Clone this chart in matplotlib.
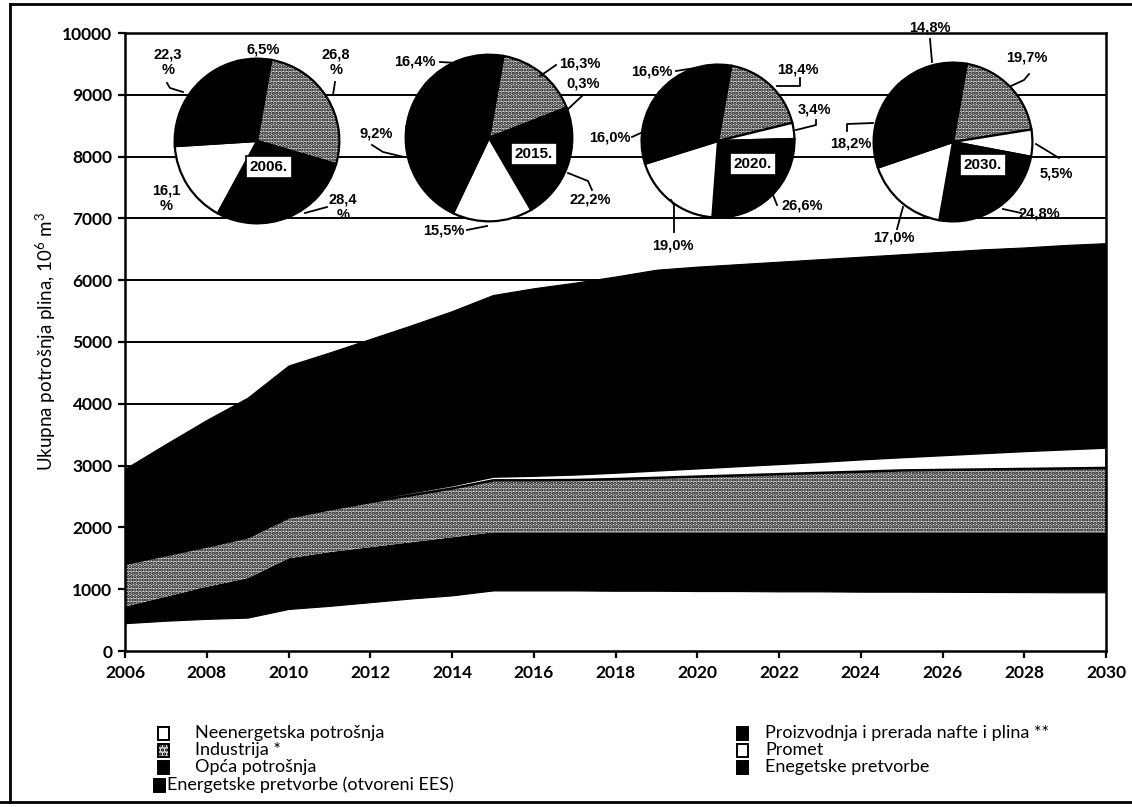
import matplotlib.pyplot as plt
from matplotlib.patches import Rectangle
from matplotlib.lines import Line2D

plt.rcParams['font.family'] = ['Lato', 'DejaVu Sans']
plt.rcParams['mathtext.default'] = 'regular'
plt.rcParams['hatch.linewidth'] = 1.6

# ---- data ----
years = list(range(2006, 2031))

series_names = ['Neenergetska potrošnja',
                'Proizvodnja i prerada nafte i plina **',
                'Industrija *',
                'Promet',
                'Opća potrošnja',
                'Enegetske pretvorbe',
                'Energetske pretvorbe (otvoreni EES)']

neenergetska = [450, 490, 520, 540, 680, 730, 790, 850, 900, 980, 980, 980, 975,
                975, 970, 970, 965, 965, 960, 960, 958, 955, 953, 950, 950]
proizvodnja = [270, 390, 520, 640, 820, 870, 890, 910, 940, 940, 940, 940, 945,
               945, 950, 950, 955, 955, 960, 960, 962, 965, 967, 970, 970]
industrija = [700, 680, 660, 670, 670, 700, 740, 770, 800, 850, 850, 855, 870,
              890, 910, 930, 950, 970, 990, 1010, 1018, 1026, 1034, 1042, 1050]
promet = [30, 30, 30, 30, 35, 35, 40, 45, 50, 60, 75, 90, 105,
          120, 135, 150, 165, 180, 200, 215, 240, 265, 290, 310, 330]
opca = [700, 760, 820, 870, 920, 950, 980, 1010, 1040, 1070, 1090, 1100, 1110,
        1120, 1125, 1130, 1135, 1140, 1140, 1145, 1150, 1155, 1155, 1160, 1160]
enegetske = [500, 650, 790, 900, 1015, 1045, 1090, 1145, 1210, 1280, 1335, 1375, 1415,
             1460, 1465, 1460, 1455, 1450, 1450, 1445, 1442, 1439, 1431, 1433, 1430]
ees = [300, 350, 400, 450, 480, 500, 520, 540, 560, 580, 600, 620, 640,
       660, 665, 670, 675, 680, 680, 685, 690, 695, 700, 705, 710]

# pie shares, slice order clockwise from top:
# industrija, promet, proizvodnja, neenergetska, then the black consumers
pie_titles = ['2006.', '2015.', '2020.', '2030.']
pie_2006 = [26.8, 0.0, 28.4, 16.1, 22.3, 6.5]
pie_2015 = [16.3, 0.3, 22.2, 15.5, 20.1, 9.2, 16.4]
pie_2020 = [18.4, 3.4, 26.6, 19.0, 16.0, 16.6]
pie_2030 = [19.7, 5.5, 24.8, 17.0, 18.2, 14.8]

# ---- layout helpers (pixel -> figure fraction) ----
W, H = 1132, 807
def fx(x):
    return x / W
def fy(y):
    return 1 - y / H

fig = plt.figure(figsize=(W / 100, H / 100), dpi=100)
fig.patch.set_facecolor('white')

ax = fig.add_axes([fx(125), fy(651), (1106 - 125) / W, (651 - 33) / H])

dots = '#dcdcdc'
fills = ['white', 'black', dots, 'white', 'black', 'black', 'black']
polys = ax.stackplot(years, neenergetska, proizvodnja, industrija, promet,
                     opca, enegetske, ees, colors=fills, labels=series_names)
for p, c in zip(polys, fills):
    p.set_edgecolor(c)
    p.set_linewidth(0.8)
polys[2].set_hatch('.....')
polys[2].set_edgecolor('black')
polys[2].set_linewidth(0)
polys[3].set_edgecolor('black')
polys[3].set_linewidth(1.8)

ax.set_xlim(2006, 2030)
ax.set_ylim(0, 10000)
ax.set_xticks(range(2006, 2031, 2))
ax.set_yticks(range(0, 10001, 1000))
ax.yaxis.grid(True, color='black', linewidth=1.4)
ax.set_axisbelow(True)
for s in ax.spines.values():
    s.set_linewidth(1.8)
ax.tick_params(direction='out', length=5, width=1.6, labelsize=12.5, pad=4)
ax.tick_params(axis='x', pad=5)
for lab in ax.get_xticklabels() + ax.get_yticklabels():
    lab.set_fontweight('bold')
ax.set_ylabel('Ukupna potrošnja plina, 10$^6$ m$^3$', fontsize=13.5)
ax.yaxis.set_label_coords(-0.068, 0.5)

# ---- pies ----
slice_fill = [dots, 'white', 'black', 'white']

pies = [
    # values, centre x, centre y, radius, box centre, label positions + leaders
    (pie_2006, 257, 141, 84, (269, 167),
     [((336, 62), True, [(335, 82), (333, 95)]),
      None,
      ((343, 207), True, [(327, 207), (305, 213)]),
      ((166, 198), True, []),
      ((168, 62), True, [(167, 83), (170, 88), (183, 92)]),
      ((263, 50), False, [])]),
    (pie_2015, 489, 138, 85, (534, 154),
     [((580, 63), False, [(556, 65), (546, 72), (540, 76)]),
      ((583, 83), False, [(582, 96), (567, 110)]),
      ((590, 200), False, [(592, 190), (588, 181), (568, 173)]),
      ((444, 231), False, [(467, 230), (487, 226)]),
      None,
      ((376, 133), False, [(372, 145), (383, 152), (404, 157)]),
      ((415, 62), False, [(440, 62), (458, 63)])]),
    (pie_2020, 718, 141, 78, (753, 164),
     [((798, 70), False, [(800, 78), (800, 86), (777, 86)]),
      ((814, 110), False, [(816, 120), (816, 125), (796, 130)]),
      ((802, 205), False, [(777, 205), (773, 195)]),
      ((673, 245), False, [(674, 232), (674, 205), (671, 200)]),
      ((610, 138), False, [(632, 137), (643, 132)]),
      ((652, 72), False, [(676, 71), (695, 68)])]),
    (pie_2030, 953, 142, 81, (983, 165),
     [((1027, 58), False, [(1029, 74), (1024, 80), (1011, 86)]),
      ((1056, 173), False, [(1059, 158), (1036, 144)]),
      ((1039, 213), False, [(1021, 213), (1003, 209)]),
      ((894, 238), False, [(897, 229), (903, 207)]),
      ((851, 143), False, [(847, 131), (847, 124), (873, 123)]),
      ((930, 27), False, [(930, 39), (932, 62)])]),
]

for (vals, cx, cy, r, box, labs), title in zip(pies, pie_titles):
    pax = fig.add_axes([fx(cx - r), fy(cy + r), 2 * r / W, 2 * r / H])
    cols = [slice_fill[i] if i < 4 else 'black' for i in range(len(vals))]
    wedges, _ = pax.pie(vals, colors=cols, startangle=80, counterclock=False,
                        wedgeprops=dict(edgecolor='black', linewidth=1.6))
    wedges[0].set_hatch('.....')
    pax.set_aspect('equal')
    pax.set_xlim(-1.02, 1.02)
    pax.set_ylim(-1.02, 1.02)
    pax.axis('off')
    fig.text(fx(box[0]), fy(box[1]), title, ha='center', va='center',
             fontsize=11, fontweight='bold', family='Liberation Sans',
             bbox=dict(boxstyle='square,pad=0.25', facecolor='white',
                       edgecolor='black', linewidth=1.2))
    for v, lab in zip(vals, labs):
        if lab is None:
            continue
        pos, split, leader = lab
        txt = f'{v:.1f}'.replace('.', ',')
        txt = txt + ('\n%' if split else '%')
        fig.text(fx(pos[0]), fy(pos[1]), txt, ha='center', va='center',
                 fontsize=10.5, fontweight='bold', family='Liberation Sans',
                 linespacing=1.15)
        if leader:
            fig.add_artist(Line2D([fx(p[0]) for p in leader],
                                  [fy(p[1]) for p in leader],
                                  color='black', linewidth=1.3))

# ---- legend (hand placed like the original) ----
leg_pos = [(158, 195, 733), (737, 765, 733),
           (158, 195, 750), (737, 765, 750),
           (158, 195, 767), (737, 765, 767),
           (154, 167, 785)]
for i, name in enumerate(series_names):
    mx, tx, ty = leg_pos[i]
    rect = Rectangle((fx(mx), fy(ty + 7)), 11 / W, 13 / H, transform=fig.transFigure,
                     facecolor=fills[i], edgecolor='black', linewidth=1.4,
                     hatch='....' if i == 2 else None)
    fig.add_artist(rect)
    fig.text(fx(tx), fy(ty), name, ha='left', va='center', fontsize=13)

# outer frame of the scanned figure
for xs, ys in [([10, 10], [4, 802]), ([10, 1132], [4, 4]), ([0, 1132], [802, 802])]:
    fig.add_artist(Line2D([fx(x) for x in xs], [fy(y) for y in ys],
                          color='black', linewidth=2))

fig.savefig('out.png', dpi=100)
